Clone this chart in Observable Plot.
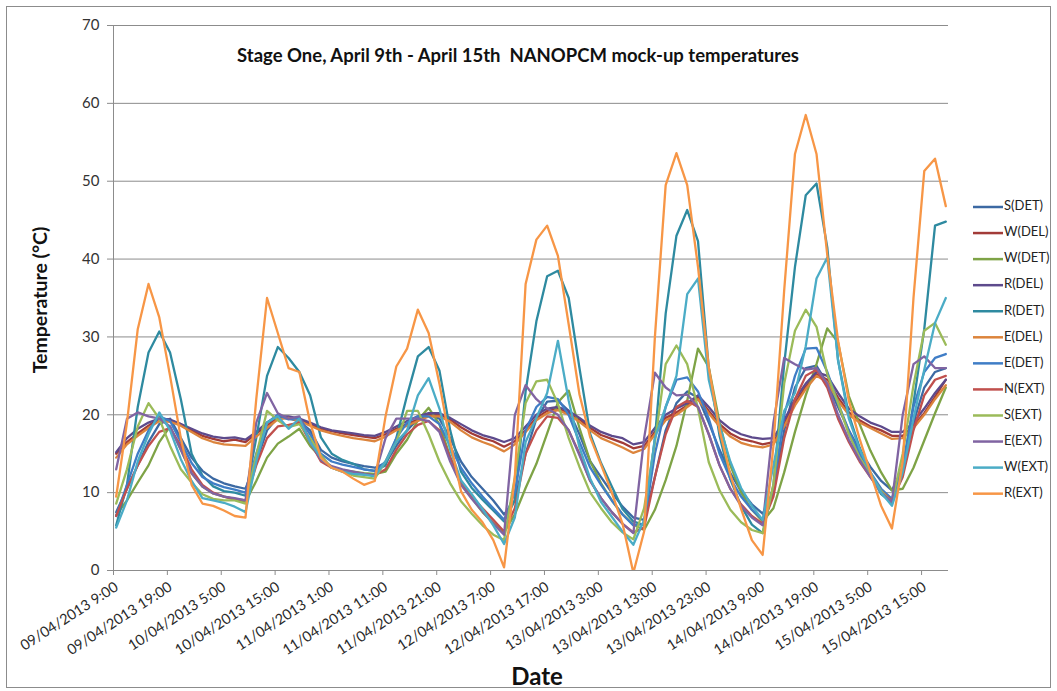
<!DOCTYPE html>
<html><head><meta charset="utf-8">
<script src="https://cdn.jsdelivr.net/npm/d3@7"></script>
<script src="https://cdn.jsdelivr.net/npm/@observablehq/plot@0.6"></script>
<style>body{margin:0;background:#fff;} #chart{position:relative;width:1057px;height:691px;}</style>
</head><body><div id="chart"></div>
<script>
// Hours after 09/04/2013 9:00, every 2 hours
const hours = d3.range(0, 155, 2);
const tickHours = d3.range(0, 151, 10);
const yTicks = d3.range(0, 71, 10);

const seriesNames = ["S(DET)","W(DEL)","W(DET)","R(DEL)","R(DET)","E(DEL)","E(DET)","N(EXT)","S(EXT)","E(EXT)","W(EXT)","R(EXT)"];
const seriesColors = ["#3c69a3","#a23b38","#7ea346","#5d4a8c","#2e8aa0","#dc843c","#3f7dc6","#c0504d","#9bbb59","#8064a2","#4bacc6","#f79646"];

const S_DET = [7.5,10.5,13.5,16.5,18.8,19.5,17,14.5,12.8,11.8,
11.2,10.8,10.5,14,18,19.7,19.5,19.2,18,15.5,
14.5,14,13.7,13.4,13.2,13.8,16,18,19.5,20,
19.5,17,14,12,10.5,9,7.2,9,15,19.5,
21.7,21.8,20.5,17.5,14,12,10,8.2,6.8,6.5,
12,18,21.5,23,22.2,19,15.5,12.5,10.2,8.5,
7.3,10,18,23.5,26,26.3,24,21,18,15.5,
13.3,11.5,10.3,13,19,23.5,25.5,26];
const W_DEL = [15,16.5,17.6,18.6,19.5,19.3,18.8,18,17.3,16.9,
16.6,16.8,16.5,17.6,18.6,19.6,19.7,19.3,18.8,18.2,
17.9,17.6,17.4,17.2,17,17.5,18.2,18.8,19.4,20,
20,19.4,18.4,17.6,17,16.6,15.9,16.6,18,19.6,
20.5,20.8,20.2,19.4,18.3,17.4,16.9,16.4,15.7,16,
17.8,19.6,20.3,21.2,22.3,20.5,18.8,17.6,16.9,16.6,
16.2,16.5,18.8,21.5,23.6,25.2,24.5,22.2,20.3,19.3,
18.5,18,17.3,17.3,18.6,20.2,22.3,24.5];
const W_DET = [7.1,9,11.3,13.5,16.5,18.5,15.5,12.5,10.8,9.9,
9.5,9.1,8.8,11.5,14.5,16.3,17.2,18.2,16,14.5,
13.2,12.9,12.7,12.5,12.4,12.7,15,16.8,19.3,20.9,
18.8,14.6,11.3,9.3,7.5,6.1,4.9,7.2,10.6,13.7,
17.6,21.6,23.1,18.3,14,11.2,9,7.2,5.9,5.2,
7.8,11.6,16,21.8,28.5,26.1,19,13.5,10,7.8,
6.3,8,12.6,17.8,22.5,26.5,31.1,29.3,22.4,18.8,
15.4,12.6,10.3,10.5,13.2,16.7,20.2,23.5];
const R_DEL = [15.2,17,18.2,19,19.5,19.4,18.8,18.2,17.6,17.2,
17,17.1,16.8,17.8,19,19.8,19.8,19.5,19,18.4,
18,17.8,17.6,17.4,17.3,17.8,18.5,19.2,19.8,20.2,
20.2,19.6,18.8,18,17.4,17,16.5,17,18.5,20,
20.8,21,20.5,19.6,18.6,17.8,17.3,17,16.2,16.5,
18.3,20,20.8,21.5,22.5,21,19.3,18.2,17.5,17.1,
16.9,17,19.3,22,24,25.5,25,22.8,20.8,19.8,
19,18.5,17.8,17.8,19,20.8,22.8,24.5];
const R_DET = [5.8,11,21,28,30.7,28,22,15,12.2,10.8,
10.2,10,9.6,17,25,28.7,27.3,25.5,22.5,17.1,
15,14.2,13.7,13,12.8,13.5,17,22.5,27.5,28.7,
25.7,18,12.7,10.6,9.1,7.7,6.3,9,23,32,
37.8,38.5,35,26,17.5,13.8,10.8,7.9,6.3,5.8,
17,33,43,46.3,42.3,26,17.3,11.7,8.3,5.9,
4.8,11,26.5,39,48.2,49.7,41.5,27,20,15.8,
12.4,9.8,8.7,12.7,21.5,31,44.3,44.8];
const E_DEL = [14.5,16.2,17.3,18.3,19.2,19.1,18.6,17.8,17,16.5,
16.2,16.1,16,17.2,18.3,19.4,19.6,19.2,18.6,18,
17.6,17.3,17,16.8,16.6,17.2,18,18.6,19.2,19.8,
19.8,19.1,18,17.1,16.5,16,15.3,16.2,17.8,19.3,
20.2,20.6,20,19.1,18,17,16.4,15.8,15.1,15.6,
17.5,19.3,20,21,22,20.2,18.5,17.2,16.4,16,
15.8,16.2,18.5,21.2,23.3,25,24.2,21.8,20,19,
18.3,17.6,16.9,17,18.3,20,22,23.8];
const E_DET = [7,11,15,18,19.8,19.2,16.5,13.8,12,11.2,
10.7,10.4,10,15,19,20,19.4,19.6,17.5,15,
14,13.6,13.3,13,12.8,14,17,19,19.8,19.8,
18.8,16,13.2,11.2,9.5,8,6.5,10,18,21,
22.3,22,20,16.5,13.2,11,9,7.2,5.8,6,
15,21,24.5,24.8,23,19.5,15,11.8,9.5,7.8,
6.5,10.5,20,25,28.5,28.6,25.5,21.5,18,15,
12.6,10.5,9.2,13.5,21,25.5,27.3,27.8];
const N_EXT = [7,10.5,13.5,16,17.8,18.3,16,13,11,10,
9.5,9.2,9,13.5,17,18.5,18.7,19,16.5,14,
13.2,12.9,12.6,12.4,12.2,13,15.5,17.5,18.7,19.2,
18,14.5,11.5,9.5,8,6.5,5,8,15,18,
19.8,19.6,18,15,11.5,9.3,7.5,6,4.9,5.5,
12,17.5,21,21.8,21,17.5,13.5,10.5,8.5,7,
6,9.5,17,22,25,25.8,23.5,19.5,16.5,14,
12,10.2,9,12,18,22.5,24.5,25];
const S_EXT = [8.6,13,18.5,21.5,19.5,16,13,11.3,9.8,9.2,
9,9,8.6,14.8,20.5,19.3,18.4,18.8,17,14.8,
13.2,12.7,12.2,12,11.8,14,16.5,20.5,20.5,17.5,
14,11.2,8.9,7.3,5.8,4.6,3.9,12,21.5,24.3,
24.5,21.4,17,13.3,10,8,6.2,4.9,4,8,
16.5,26.5,28.9,26.5,20.8,13.9,10.3,7.8,6.2,5.2,
4.8,11,24,30.8,33.5,31.3,25.2,21.5,17.5,14.5,
12.4,10.2,8.8,15,23.8,30.8,31.8,29];
const E_EXT = [13,19.5,20.3,19.8,19.5,18.5,15.5,12.5,10.8,9.9,
9.5,9.3,9,19,22.8,20.2,19.5,19.8,16.5,14.2,
13.4,13,12.7,12.4,12.2,17,19.5,19.5,19.5,19.2,
17.8,14,11,9.2,7.6,6,4.6,20,23.8,22,
20.8,20,18,14.8,11.5,9.3,7.5,6,4.8,17,
25.4,23.5,22.5,22.6,21,17.5,13.5,10.5,8.3,6.8,
5.8,19,27.3,26.5,25.8,26,24,20,16.8,14.2,
12,10,8.8,20,26.5,27.5,26,26];
const W_EXT = [5.5,9,14,17.5,20.3,18,14.3,11.5,9.3,9,
8.7,8.2,7.5,14,19,19.8,18.2,19.5,16.5,14.5,
13.2,12.7,12.4,12.3,12.1,14,16.5,18,22.5,24.7,
20.8,15.5,11.6,9.8,7.9,5.8,3.4,6.8,16.5,19.6,
22.8,29.5,21.8,15.8,11.8,8.8,6.9,5,3.3,6.5,
17,21,25,35.5,37.5,24.5,18.6,14,10.6,8.3,
6.5,13.5,20.5,22.8,28.8,37.5,40.2,27,19.5,15.6,
12.6,10,8.3,12.6,19.5,25.8,31.8,35];
const R_EXT = [9.5,19,31,36.8,32.5,25,17,11,8.6,8.3,
7.7,7,6.8,22,35,30.5,26,25.5,19,14.5,
13.2,12.7,11.8,11,11.5,19.8,26.2,28.5,33.5,30.5,
24,16.5,10.2,7.8,6.2,3.9,0.4,12,36.8,42.5,
44.3,40.4,31.6,22.6,17.1,13.6,10,6,-0.3,5,
30,49.5,53.6,49.5,39,26.1,18,12.3,7.9,3.9,
2,16,36,53.5,58.5,53.5,40.5,29.5,21.8,16.9,
12.6,8.3,5.4,14,35,51.3,52.9,46.8];

const seriesValues = [S_DET,W_DEL,W_DET,R_DEL,R_DET,E_DEL,E_DET,N_EXT,S_EXT,E_EXT,W_EXT,R_EXT];

const start = Date.UTC(2013, 3, 9, 9);
const toDate = h => new Date(start + h * 3600e3);
const fmt = d3.utcFormat("%d/%m/%Y %-H:%M");

const data = [];
seriesNames.forEach((name, i) => {
  seriesValues[i].forEach((v, j) => data.push({series: name, date: toDate(hours[j]), value: v}));
});

const W = 1057, H = 691;
const gray = "#8c8c8c";
const plot = Plot.plot({
  width: W, height: H,
  marginLeft: 113, marginRight: 109, marginTop: 25, marginBottom: 121,
  style: {fontFamily: "Lato, 'Open Sans', sans-serif", background: "white", color: "#333", overflow: "visible"},
  x: {type: "utc", domain: [toDate(-0.5), toDate(154.5)], axis: null},
  y: {domain: [0, 70], axis: null},
  color: {domain: seriesNames, range: seriesColors},
  marks: [
    Plot.ruleY(yTicks.filter(d => d > 0), {stroke: gray, strokeWidth: 1}),
    Plot.ruleY([0], {stroke: gray, strokeWidth: 1}),
    Plot.ruleX([toDate(-0.5)], {stroke: gray, strokeWidth: 1}),
    Plot.axisY({ticks: yTicks, tickSize: 6, tickPadding: 8, stroke: gray, fill: "#333", fontSize: 15, label: null, tickFormat: d => d}),
    Plot.axisX({ticks: tickHours.map(h => toDate(h - 0.5)), tickSize: 5, stroke: gray, tickFormat: () => "", label: null}),
    Plot.text(tickHours.map(toDate), {x: d => d, text: d => fmt(d), frameAnchor: "bottom", rotate: -33, textAnchor: "end", dx: 3, dy: 19, fontSize: 14.5, fill: "#2a2a2a"}),
    Plot.line(data, {x: "date", y: "value", z: "series", stroke: "series", strokeWidth: 2.3, clip: true, strokeLinejoin: "round"})
  ]
});

const svg = d3.select(plot);
svg.append("rect").attr("x", 6.5).attr("y", 6.5).attr("width", 1044).attr("height", 681)
  .attr("fill", "none").attr("stroke", gray);
svg.append("text").attr("x", 518).attr("y", 57).attr("text-anchor", "middle").attr("dominant-baseline", "middle")
  .attr("font-weight", "bold").attr("font-size", 18.5).attr("fill", "#111")
  .text("Stage One, April 9th - April 15th  NANOPCM mock-up temperatures").style("white-space", "pre");
svg.append("text").attr("transform", "translate(42,300) rotate(-90)").attr("text-anchor", "middle").attr("dominant-baseline", "middle")
  .attr("font-weight", "bold").attr("font-size", 19.5).attr("fill", "#111").text("Temperature (°C)");
svg.append("text").attr("x", 537).attr("y", 679).attr("text-anchor", "middle").attr("dominant-baseline", "middle")
  .attr("font-weight", "bold").attr("font-size", 24).attr("fill", "#111").text("Date");

const lg = svg.append("g");
seriesNames.forEach((name, i) => {
  const y = 207 + i * 26.06;
  lg.append("line").attr("x1", 973).attr("x2", 1003).attr("y1", y).attr("y2", y)
    .attr("stroke", seriesColors[i]).attr("stroke-width", 2.5);
  lg.append("text").attr("x", 1004).attr("y", y).attr("text-anchor", "start").attr("dominant-baseline", "middle")
    .attr("font-size", 13).attr("fill", "#222").text(name);
});

document.getElementById("chart").appendChild(plot);
</script>
</body></html>
